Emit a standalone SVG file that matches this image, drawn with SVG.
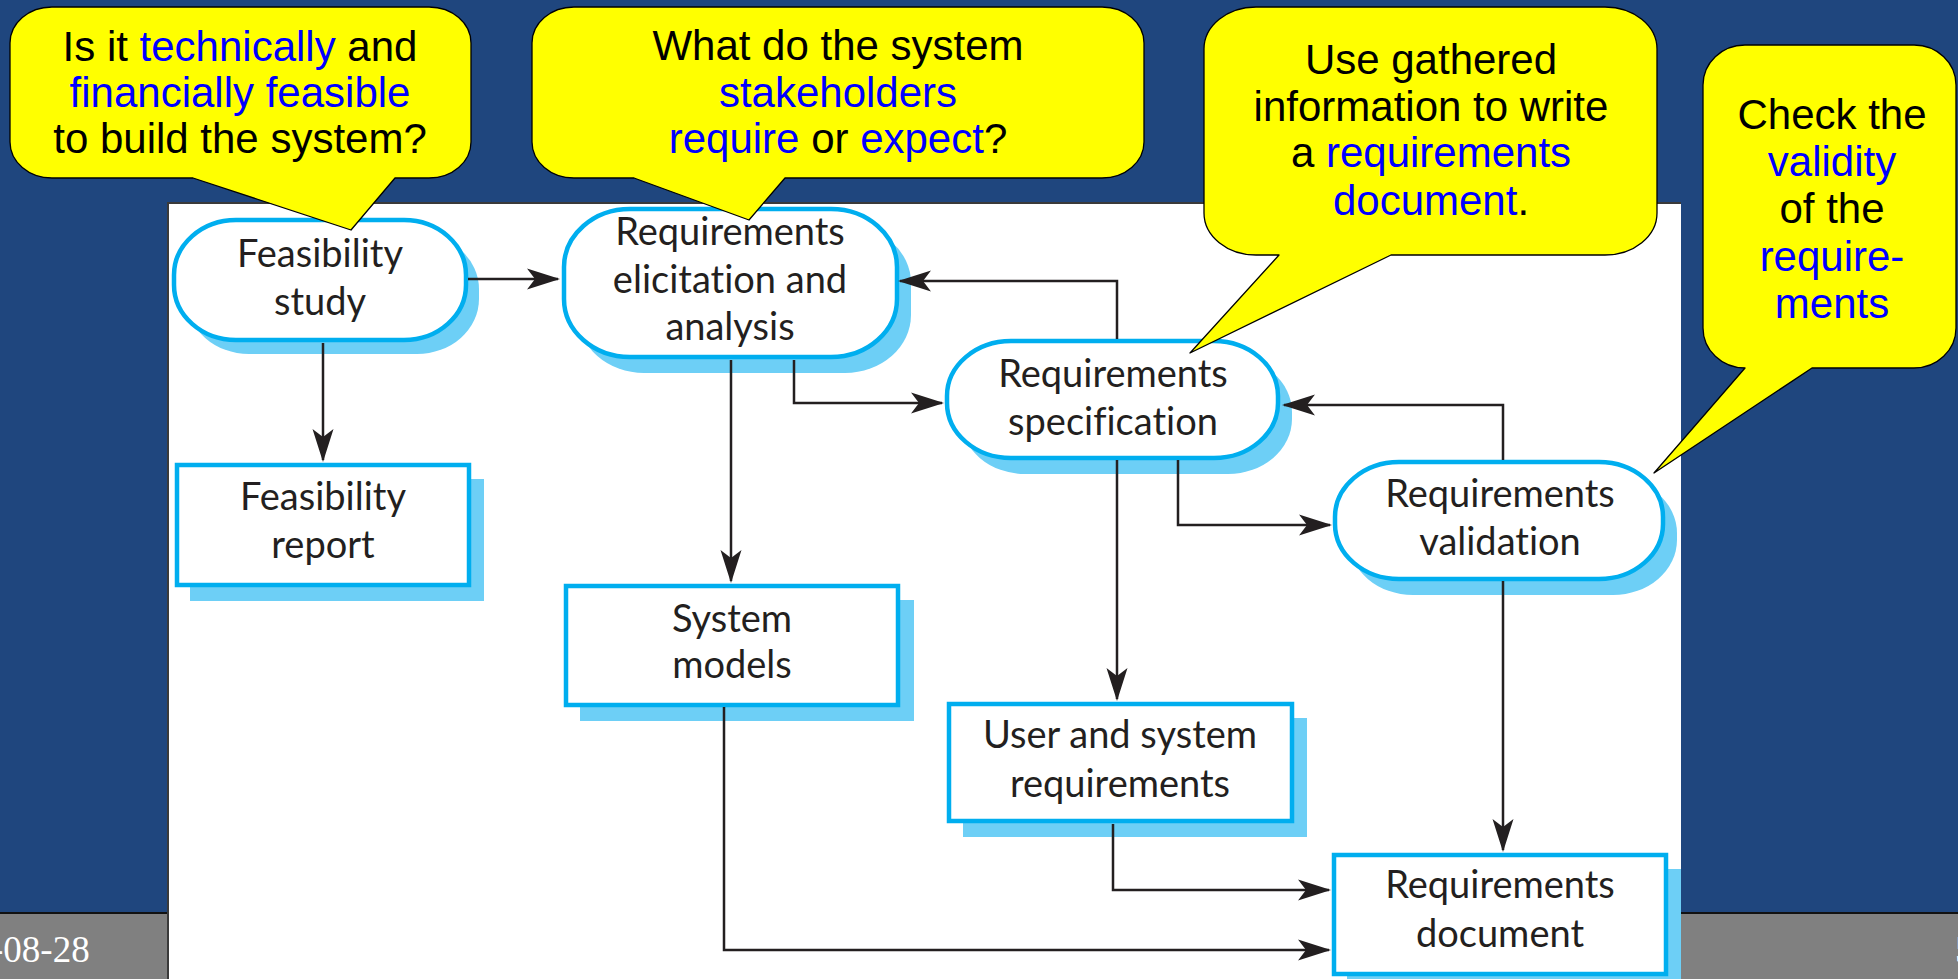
<svg xmlns="http://www.w3.org/2000/svg" width="1958" height="979" viewBox="0 0 1958 979">
  <style>
    .bg { fill: #1F467E; }
    .footer { fill: #808080; }
    .foot-text { font-family: "Liberation Serif", "Times New Roman", serif; font-size: 37px; fill: #FFFFFF; }
    .panel { fill: #FFFFFF; }
    .panel-edge { fill: none; stroke: #3A3A3A; stroke-width: 2; }
    .shadow { fill: #6DCFF6; }
    .outline { fill: #FFFFFF; stroke: #00AEEF; stroke-width: 4.5; }
    .label { font-family: Lato, "Open Sans", sans-serif; font-size: 38px; fill: #231F20; text-anchor: middle;
             font-variant-ligatures: none; font-feature-settings: "liga" 0, "dlig" 0; }
    .wire { fill: none; stroke: #231F20; stroke-width: 2.5; marker-end: url(#arr); }
    .bubble { fill: #FFFF00; stroke: #000000; stroke-width: 1.3; stroke-linejoin: round; }
    .say { font-family: "Liberation Sans", Arial, sans-serif; font-size: 42px; fill: #000000; text-anchor: middle; }
    .hl { fill: #0000FF; }
  </style>
  <defs>
    <marker id="arr" viewBox="-36 -12 38 24" refX="0" refY="0" markerWidth="38" markerHeight="24" markerUnits="userSpaceOnUse" orient="auto">
      <path d="M2,0 L-31,-10.5 L-23,0 L-31,10.5 Z" fill="#231F20"/>
    </marker>
  </defs>

  <!-- slide background and footer band -->
  <rect class="bg" x="0" y="0" width="1958" height="979"/>
  <rect class="footer" x="0" y="913" width="1958" height="66"/>
  <line x1="0" y1="913" x2="1958" y2="913" stroke="#111111" stroke-width="2"/>
  <text class="foot-text" x="-9" y="962">-08-28</text>
  <text class="foot-text" x="1955" y="962">5</text>

  <!-- white figure panel -->
  <rect class="panel" x="168" y="203" width="1513" height="776"/>
  <path class="panel-edge" d="M168,979 V203 H1681"/>

  <!-- process nodes -->
  <g id="feasibility-study">
    <rect class="shadow" x="187" y="234" width="292" height="120" rx="62" ry="55"/>
    <rect class="outline" x="174" y="220" width="292" height="120" rx="62" ry="55"/>
    <text class="label" x="320" y="267">Feasibility</text>
    <text class="label" x="320" y="315">study</text>
  </g>

  <g id="feasibility-report">
    <rect class="shadow" x="190" y="479" width="294" height="122"/>
    <rect class="outline" x="177" y="465" width="292" height="120"/>
    <text class="label" x="323" y="510">Feasibility</text>
    <text class="label" x="323" y="558">report</text>
  </g>

  <g id="elicitation">
    <rect class="shadow" x="578" y="225" width="333" height="148" rx="66" ry="58"/>
    <rect class="outline" x="564" y="209" width="333" height="148" rx="66" ry="58"/>
    <text class="label" x="730" y="245">Requirements</text>
    <text class="label" x="730" y="293">elicitation and</text>
    <text class="label" x="730" y="340">analysis</text>
  </g>

  <g id="system-models">
    <rect class="shadow" x="580" y="600" width="334" height="121"/>
    <rect class="outline" x="566" y="586" width="332" height="119"/>
    <text class="label" x="732" y="632">System</text>
    <text class="label" x="732" y="678">models</text>
  </g>

  <g id="specification">
    <rect class="shadow" x="961" y="357" width="331" height="117" rx="64" ry="55"/>
    <rect class="outline" x="947" y="341" width="331" height="117" rx="64" ry="55"/>
    <text class="label" x="1113" y="387">Requirements</text>
    <text class="label" x="1113" y="435">specification</text>
  </g>

  <g id="validation">
    <rect class="shadow" x="1349" y="478" width="328" height="117" rx="64" ry="55"/>
    <rect class="outline" x="1335" y="462" width="328" height="117" rx="64" ry="55"/>
    <text class="label" x="1500" y="507">Requirements</text>
    <text class="label" x="1500" y="555">validation</text>
  </g>

  <g id="user-system-requirements">
    <rect class="shadow" x="963" y="718" width="344" height="119"/>
    <rect class="outline" x="949" y="704" width="343" height="117"/>
    <text class="label" x="1120" y="748">User and system</text>
    <text class="label" x="1120" y="797">requirements</text>
  </g>

  <g id="requirements-document">
    <rect class="shadow" x="1347" y="869" width="334" height="120"/>
    <rect class="outline" x="1334" y="855" width="332" height="119"/>
    <text class="label" x="1500" y="898">Requirements</text>
    <text class="label" x="1500" y="947">document</text>
  </g>

  <!-- process flow connectors -->
  <g id="connectors">
    <path class="wire" d="M323,343 V460"/>
    <path class="wire" d="M468,279 H558"/>
    <path class="wire" d="M731,360 V581"/>
    <path class="wire" d="M794,360 V403 H942"/>
    <path class="wire" d="M1117,339 V281 H900"/>
    <path class="wire" d="M1117,460 V699"/>
    <path class="wire" d="M1178,460 V525 H1330"/>
    <path class="wire" d="M1503,460 V405 H1284"/>
    <path class="wire" d="M1503,581 V850"/>
    <path class="wire" d="M1113,824 V890 H1329"/>
    <path class="wire" d="M724,707 V950 H1329"/>
  </g>

  <!-- speech-bubble annotations -->
  <g id="note-feasibility">
    <path class="bubble" d="M52,7 H429 A42 36 0 0 1 471,43 V142 A42 36 0 0 1 429,178 H395 L351,230 L193,178 H52 A42 36 0 0 1 10,142 V43 A42 36 0 0 1 52,7 Z"/>
    <text class="say" x="240" y="61">Is it <tspan class="hl">technically</tspan> and</text>
    <text class="say hl" x="240" y="107">financially feasible</text>
    <text class="say" x="240" y="153">to build the system?</text>
  </g>

  <g id="note-elicitation">
    <path class="bubble" d="M574,7 H1102 A42 36 0 0 1 1144,43 V142 A42 36 0 0 1 1102,178 H785 L749,220 L634,178 H574 A42 36 0 0 1 532,142 V43 A42 36 0 0 1 574,7 Z"/>
    <text class="say" x="838" y="60">What do the system</text>
    <text class="say hl" x="838" y="107">stakeholders</text>
    <text class="say" x="838" y="153"><tspan class="hl">require</tspan> or <tspan class="hl">expect</tspan>?</text>
  </g>

  <g id="note-specification">
    <path class="bubble" d="M1256,7 H1605 A52 42 0 0 1 1657,49 V213 A52 42 0 0 1 1605,255 H1391 L1190,353 L1279,255 H1256 A52 42 0 0 1 1204,213 V49 A52 42 0 0 1 1256,7 Z"/>
    <text class="say" x="1431" y="74">Use gathered</text>
    <text class="say" x="1431" y="121">information to write</text>
    <text class="say" x="1431" y="167">a <tspan class="hl">requirements</tspan></text>
    <text class="say" x="1431" y="215"><tspan class="hl">document</tspan>.</text>
  </g>

  <g id="note-validation">
    <path class="bubble" d="M1745,45 H1914 A42 40 0 0 1 1956,85 V328 A42 40 0 0 1 1914,368 H1812 L1654,473 L1745,368 A42 40 0 0 1 1703,328 V85 A42 40 0 0 1 1745,45 Z"/>
    <text class="say" x="1832" y="129">Check the</text>
    <text class="say hl" x="1832" y="176">validity</text>
    <text class="say" x="1832" y="223">of the</text>
    <text class="say hl" x="1832" y="271">require-</text>
    <text class="say hl" x="1832" y="318">ments</text>
  </g>
</svg>
